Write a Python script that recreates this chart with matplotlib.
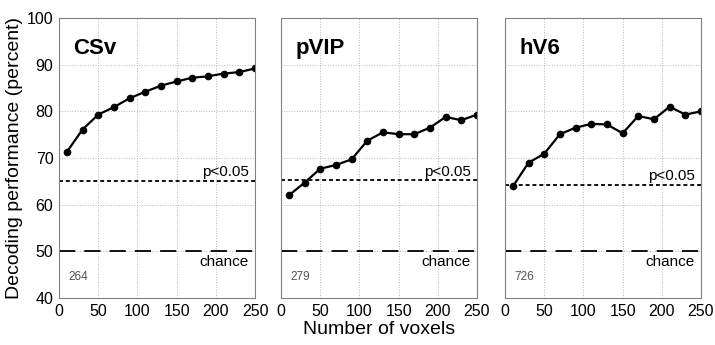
import numpy as np
import matplotlib
matplotlib.use("Agg")
import matplotlib.pyplot as plt

plt.rcParams['font.family'] = ['Liberation Sans', 'DejaVu Sans']

voxels = [10, 30, 50, 70, 90, 110, 130, 150, 170, 190, 210, 230, 250]
regions = ["CSv", "pVIP", "hV6"]
counts = ["264", "279", "726"]
csv_perf = [71.3, 76.1, 79.3, 80.9, 82.8, 84.2, 85.5, 86.4, 87.2, 87.5, 88.1, 88.4, 89.2]
pvip_perf = [62.0, 64.7, 67.7, 68.5, 69.7, 73.7, 75.5, 75.1, 75.1, 76.5, 78.8, 78.1, 79.3]
hv6_perf = [63.9, 69.0, 70.9, 75.1, 76.5, 77.3, 77.2, 75.3, 79.0, 78.3, 81.0, 79.3, 80.0]
thresholds = [65.1, 65.2, 64.3]
chance = 50

perfs = [csv_perf, pvip_perf, hv6_perf]

fig = plt.figure(figsize=(7.15, 3.45), dpi=100)
W, H = 715., 345.
lefts = [59, 281, 505]
width = 196
top, bottom = 18, 298

for i in range(3):
    ax = fig.add_axes([lefts[i] / W, 1 - bottom / H, width / W, (bottom - top) / H])
    ax.set_xlim(0, 250)
    ax.set_ylim(40, 100)
    ax.set_xticks(np.arange(0, 251, 50))
    ax.set_yticks(np.arange(40, 101, 10))
    ax.grid(True, color='#b8b8b8', linestyle=':', linewidth=0.7)
    ax.tick_params(length=0, labelsize=11.5, pad=4)
    for s in ax.spines.values():
        s.set_color('#808080')
        s.set_linewidth(0.8)
    if i > 0:
        ax.set_yticklabels([])
    else:
        ax.set_ylabel("Decoding performance (percent)", fontsize=14, labelpad=3)
    if i == 1:
        ax.set_xlabel("Number of voxels", fontsize=14, labelpad=2)

    ax.axhline(thresholds[i], color='black', linestyle=(0, (2.2, 1.6)), linewidth=1.3)
    ax.axhline(chance, color='black', linestyle=(0, (9, 5)), linewidth=1.3)
    ax.plot(voxels, perfs[i], color='black', marker='o', markersize=4.5, linewidth=1.6)

    ax.text(242, thresholds[i] + 0.4, "p<0.05", ha='right', va='bottom', fontsize=11)
    ax.text(242, chance - 0.8, "chance", ha='right', va='top', fontsize=11)
    ax.text(12, 44.5, counts[i], ha='left', va='center', fontsize=8.5, color='#555555')
    ax.text(18, 93.5, regions[i], ha='left', va='center', fontsize=16, fontweight='bold')

fig.savefig("out.png", dpi=100)
